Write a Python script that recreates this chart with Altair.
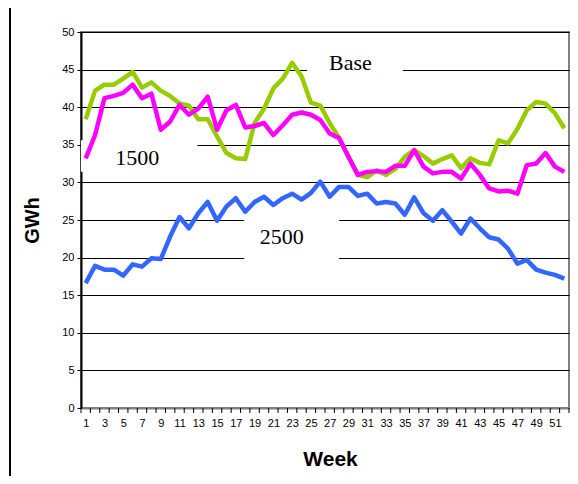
import altair as alt
import pandas as pd

weeks = list(range(1, 53))
base = [38.4, 42.2, 43.0, 43.0, 43.8, 44.7, 42.6, 43.3, 42.2, 41.5,
        40.5, 40.2, 38.4, 38.4, 36.1, 33.9, 33.2, 33.1, 37.9, 39.8,
        42.5, 43.8, 45.9, 44.1, 40.6, 40.2, 37.9, 35.9, 33.4, 31.0,
        30.7, 31.6, 31.0, 31.8, 33.4, 34.3, 33.5, 32.5, 33.1, 33.6,
        31.9, 33.2, 32.6, 32.4, 35.6, 35.2, 37.1, 39.6, 40.7, 40.5,
        39.2, 37.2]
s1500 = [33.2, 36.3, 41.2, 41.5, 41.9, 43.0, 41.2, 41.8, 37.0, 38.1,
         40.3, 39.0, 39.8, 41.4, 37.0, 39.6, 40.3, 37.3, 37.5, 37.9,
         36.3, 37.6, 39.0, 39.3, 39.0, 38.3, 36.5, 35.9, 33.4, 31.0,
         31.4, 31.5, 31.4, 32.2, 32.2, 34.3, 32.1, 31.2, 31.4, 31.4,
         30.5, 32.5, 31.0, 29.2, 28.8, 28.9, 28.5, 32.3, 32.5, 33.9,
         32.1, 31.4]
s2500 = [16.6, 18.9, 18.4, 18.4, 17.6, 19.1, 18.8, 19.9, 19.8, 22.8,
         25.4, 23.9, 25.9, 27.4, 24.9, 26.8, 27.9, 26.1, 27.4, 28.1,
         27.0, 27.9, 28.5, 27.7, 28.6, 30.1, 28.1, 29.4, 29.4, 28.2,
         28.5, 27.2, 27.4, 27.2, 25.7, 28.0, 25.9, 24.9, 26.3, 24.8,
         23.2, 25.2, 23.9, 22.7, 22.4, 21.2, 19.2, 19.7, 18.4, 18.0,
         17.7, 17.2]
series_names = ["Base", "1500", "2500"]
series_colors = ["#99CC00", "#FF00FF", "#3366FF"]

ann_text = ["Base", "1500", "2500"]
ann_week = [29.2, 6.5, 21.9]
ann_value = [45.9, 33.2, 22.7]
box_w0 = [24.6, 0.5, 17.9]
box_w1 = [34.8, 12.9, 28.0]
box_v0 = [44.1, 31.4, 19.0]
box_v1 = [47.6, 35.6, 26.1]

y_ticks = list(range(0, 51, 5))
x_label_weeks = weeks[::2]

rows = []
for name, vals in zip(series_names, [base, s1500, s2500]):
    for w, v in zip(weeks, vals):
        rows.append({"week": w, "gwh": v, "series": name})
df = pd.DataFrame(rows)

ann_df = pd.DataFrame({"text": ann_text, "week": ann_week, "value": ann_value})
box_df = pd.DataFrame({"w0": box_w0, "w1": box_w1, "v0": box_v0, "v1": box_v1})
edge_df = pd.DataFrame({"edge": [w - 0.5 for w in weeks] + [weeks[-1] + 0.5]})

xscale = alt.Scale(domain=[0.5, 52.5], nice=False, zero=False)
yscale = alt.Scale(domain=[0, 50], nice=False)

xaxis = alt.Axis(values=x_label_weeks, format="d", ticks=False,
                 grid=False, domainColor="#808080", domainWidth=2,
                 labelPadding=9, labelFontSize=11, labelColor="black",
                 labelFont="Liberation Sans",
                 title="Week", titleFontSize=21, titleFont="Liberation Sans",
                 titleFontWeight="bold", titleX=249, titleY=40,
                 titleBaseline="top", titleColor="black")
yaxis = alt.Axis(values=y_ticks, grid=True, gridColor="black",
                 gridWidth=1, tickSize=4, tickColor="black",
                 domainColor="black", domainWidth=2, labelPadding=3,
                 labelFontSize=11, labelColor="black",
                 labelFont="Liberation Sans",
                 title="GWh", titleFontSize=20, titleFont="Liberation Sans",
                 titleFontWeight="bold", titleX=-39, titleY=188,
                 titleColor="black")

boxes = alt.Chart(box_df).mark_rect(color="white").encode(
    x=alt.X("w0:Q", scale=xscale, axis=xaxis),
    x2="w1:Q",
    y=alt.Y("v0:Q", scale=yscale, axis=yaxis),
    y2="v1:Q",
)

lines = alt.Chart(df).mark_line(strokeWidth=4.5, strokeJoin="round").encode(
    x=alt.X("week:Q", scale=xscale, axis=xaxis),
    y=alt.Y("gwh:Q", scale=yscale, axis=yaxis),
    color=alt.Color("series:N", scale=alt.Scale(domain=series_names, range=series_colors),
                    legend=None),
    order=alt.Order("week:Q"),
)

xticks = alt.Chart(edge_df).mark_rule(color="black", strokeWidth=1).encode(
    x=alt.X("edge:Q", scale=xscale, axis=xaxis),
    y=alt.value(376),
    y2=alt.value(381),
)

labels = alt.Chart(ann_df).mark_text(font="Liberation Serif", fontSize=22,
                                     color="black").encode(
    x=alt.X("week:Q", scale=xscale, axis=xaxis),
    y=alt.Y("value:Q", scale=yscale, axis=yaxis),
    text="text:N",
)

border = alt.Chart(edge_df).mark_rule(color="black", strokeWidth=1.5).encode(
    x=alt.value(-71),
    y=alt.value(-32),
    y2=alt.value(470),
)

chart = alt.layer(boxes, lines, xticks, labels, border).properties(
    width=488, height=376,
    autosize=alt.AutoSizeParams(type="none"),
    padding={"left": 73, "top": 24, "right": 1, "bottom": 68},
).configure_view(stroke="#808080", strokeWidth=2)

chart.save("out.html", embed_options={"renderer": "svg", "actions": False})
